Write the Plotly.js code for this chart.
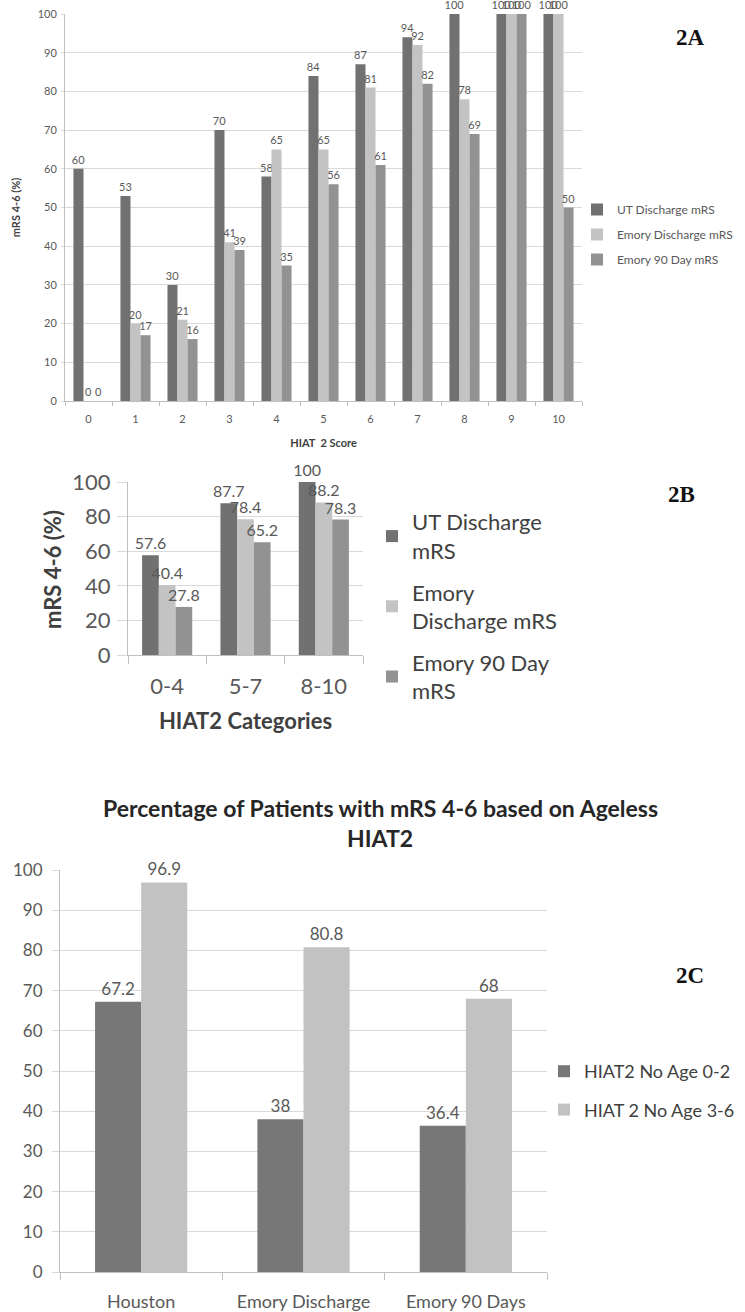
<!DOCTYPE html>
<html>
<head>
<meta charset="utf-8">
<script src="https://cdn.plot.ly/plotly-3.0.1.min.js"></script>
<style>html,body{margin:0;padding:0;background:#fff;}#chart{width:745px;height:1312px;}</style>
</head>
<body>
<div id="chart"></div>
<script>
// ---- Panel 2A data ----
const scoresA = ['0','1','2','3','4','5','6','7','8','9','10'];
const utDischargeA = [60, 53, 30, 70, 58, 84, 87, 94, 100, 100, 100];
const emoryDischargeA = [0, 20, 21, 41, 65, 65, 81, 92, 78, 100, 100];
const emory90A = [0, 17, 16, 39, 35, 56, 61, 82, 69, 100, 50];

// ---- Panel 2B data ----
const categoriesB = ['0-4', '5-7', '8-10'];
const utDischargeB = [57.6, 87.7, 100];
const emoryDischargeB = [40.4, 78.4, 88.2];
const emory90B = [27.8, 65.2, 78.3];

// ---- Panel 2C data ----
const sitesC = ['Houston', 'Emory Discharge', 'Emory 90 Days'];
const noAge02 = [67.2, 38, 36.4];
const noAge36 = [96.9, 80.8, 68];

const seriesNamesA = ['UT Discharge mRS', 'Emory Discharge mRS', 'Emory 90 Day mRS'];
const seriesNamesB = ['UT Discharge<br>mRS', 'Emory<br>Discharge mRS', 'Emory 90 Day<br>mRS'];
const seriesNamesC = ['HIAT2 No Age 0-2', 'HIAT 2 No Age 3-6'];

const DARK = '#717171', LIGHT = '#c3c3c3', MID = '#929292';
const C_DARK = '#777777', C_LIGHT = '#c2c2c2';
const FONT = 'Lato, "Open Sans", "DejaVu Sans", sans-serif';
const TXT = '#595959';

function bar(x, y, name, color, xa, ya, legend, fsize, extra) {
  return Object.assign({
    type: 'bar', x: x, y: y, name: name, xaxis: xa, yaxis: ya, legend: legend,
    legendgroup: legend + name,
    marker: {color: color, line: {width: 0}},
    texttemplate: '%{y}', textposition: 'outside', cliponaxis: false,
    constraintext: 'none',
    textfont: {size: fsize, color: TXT, family: FONT},
    hoverinfo: 'x+y'
  }, extra || {});
}

const data = [
  bar(scoresA, utDischargeA, seriesNamesA[0], DARK, 'x', 'y', 'legend', 11),
  bar(scoresA, emoryDischargeA, seriesNamesA[1], LIGHT, 'x', 'y', 'legend', 11),
  bar(scoresA, emory90A, seriesNamesA[2], MID, 'x', 'y', 'legend', 11),
  bar(categoriesB, utDischargeB, seriesNamesB[0], DARK, 'x2', 'y2', 'legend2', 16),
  bar(categoriesB, emoryDischargeB, seriesNamesB[1], LIGHT, 'x2', 'y2', 'legend2', 16),
  bar(categoriesB, emory90B, seriesNamesB[2], MID, 'x2', 'y2', 'legend2', 16),
  bar(sitesC, noAge02, seriesNamesC[0], C_DARK, 'x3', 'y3', 'legend3', 17, {width: 0.284, offset: -0.284}),
  bar(sitesC, noAge36, seriesNamesC[1], C_LIGHT, 'x3', 'y3', 'legend3', 17, {width: 0.284, offset: 0})
];

const W = 745, H = 1312;
const px = v => v / W;
const py = v => 1 - v / H;

function xAxis(dom, anchor, fsize, ticklen, lblGap, title, tfsize, standoff) {
  return {
    domain: dom, anchor: anchor, type: 'category', automargin: false,
    tickson: 'boundaries', ticks: 'outside', ticklen: ticklen, tickcolor: '#bfbfbf',
    ticklabelstandoff: lblGap,
    showline: true, linecolor: '#bfbfbf', linewidth: 1, showgrid: false, zeroline: false,
    tickfont: {size: fsize, color: TXT, family: FONT},
    title: title ? {text: title, font: {size: tfsize, color: '#404040', family: FONT}, standoff: standoff} : {text: ''}
  };
}
function yAxis(dom, anchor, dtick, fsize, ticklen, lblGap, title, tfsize, standoff) {
  return {
    domain: dom, anchor: anchor, range: [0, 100], dtick: dtick, automargin: false,
    ticks: 'outside', ticklen: ticklen, tickcolor: '#d9d9d9',
    ticklabelstandoff: lblGap,
    showline: true, linecolor: '#bfbfbf', linewidth: 1,
    showgrid: true, gridcolor: '#d9d9d9', gridwidth: 1, zeroline: false,
    tickfont: {size: fsize, color: TXT, family: FONT},
    title: title ? {text: title, font: {size: tfsize, color: '#404040', family: FONT}, standoff: standoff} : {text: ''}
  };
}

const SERIF = '"Liberation Serif", "DejaVu Serif", serif';

const layout = {
  width: W, height: H,
  margin: {l: 0, r: 0, t: 0, b: 0},
  paper_bgcolor: '#ffffff', plot_bgcolor: '#ffffff',
  font: {family: FONT, color: TXT},
  barmode: 'group', bargap: 0.36, bargroupgap: 0,
  showlegend: true,
  xaxis: xAxis([px(65), px(582)], 'y', 11, 4, 8, '<b>HIAT  2 Score</b>', 11, 15),
  yaxis: yAxis([py(401), py(14)], 'x', 10, 11, 3, 2, '<b>mRS 4-6 (%)</b>', 11, 14),
  xaxis2: xAxis([px(128), px(363)], 'y2', 22, 8, 12, '<b>HIAT2 Categories</b>', 22, 15),
  yaxis2: yAxis([py(655), py(482)], 'x2', 20, 22, 10, 2, '', 22, 0),
  xaxis3: xAxis([px(60), px(547)], 'y3', 18, 7, 13, '', 14, 0),
  yaxis3: yAxis([py(1272), py(870)], 'x3', 10, 17, 7, 6, '', 14, 0),
  legend: {x: px(577), y: py(195), xanchor: 'left', yanchor: 'top', bgcolor: 'rgba(0,0,0,0)',
           font: {size: 12, color: TXT, family: FONT}, traceorder: 'grouped', tracegroupgap: 6, itemwidth: 30},
  legend2: {x: px(372), y: py(501), xanchor: 'left', yanchor: 'top', bgcolor: 'rgba(0,0,0,0)',
            font: {size: 22, color: '#404040', family: FONT}, traceorder: 'grouped', tracegroupgap: 10, itemwidth: 30},
  legend3: {x: px(544), y: py(1053), xanchor: 'left', yanchor: 'top', bgcolor: 'rgba(0,0,0,0)',
            font: {size: 18, color: '#404040', family: FONT}, traceorder: 'grouped', tracegroupgap: 12, itemwidth: 30},
  annotations: [
    {text: '<b>mRS 4-6 (%)</b>', x: px(52), y: py(569), xref: 'paper', yref: 'paper', showarrow: false,
     textangle: -90, xanchor: 'center', yanchor: 'middle', font: {family: FONT, size: 22, color: '#404040'}},
    {text: '<b>2A</b>', x: px(690), y: py(37), xref: 'paper', yref: 'paper', showarrow: false,
     xanchor: 'center', yanchor: 'middle', font: {family: SERIF, size: 23, color: '#111'}},
    {text: '<b>2B</b>', x: px(681), y: py(495), xref: 'paper', yref: 'paper', showarrow: false,
     xanchor: 'center', yanchor: 'middle', font: {family: SERIF, size: 23, color: '#111'}},
    {text: '<b>2C</b>', x: px(690), y: py(975), xref: 'paper', yref: 'paper', showarrow: false,
     xanchor: 'center', yanchor: 'middle', font: {family: SERIF, size: 23, color: '#111'}},
    {text: '<b>Percentage of Patients with mRS 4-6 based on Ageless</b>', x: px(380), y: py(808),
     xref: 'paper', yref: 'paper', showarrow: false, xanchor: 'center', yanchor: 'middle',
     font: {family: FONT, size: 23, color: '#262626'}},
    {text: '<b>HIAT2</b>', x: px(380), y: py(838),
     xref: 'paper', yref: 'paper', showarrow: false, xanchor: 'center', yanchor: 'middle',
     font: {family: FONT, size: 23, color: '#262626'}}
  ]
};

Plotly.newPlot('chart', data, layout, {displayModeBar: false, staticPlot: true});
</script>
</body>
</html>
